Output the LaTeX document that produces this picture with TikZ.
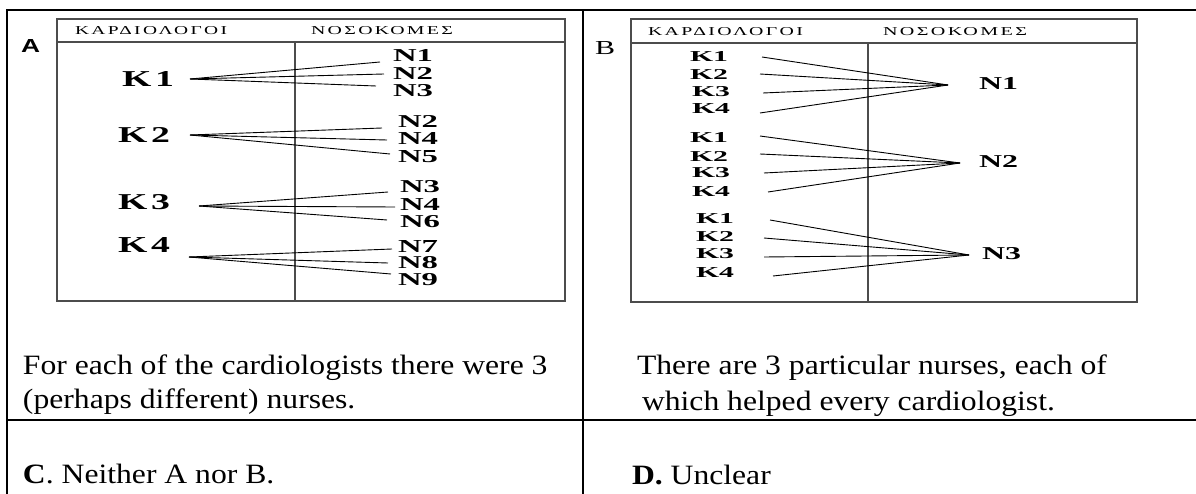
\documentclass[tikz,border=0pt]{standalone}
\usepackage{fontspec}
\usepackage{graphicx}
\setmainfont{Liberation Serif}
\newfontfamily\hdrfont[LetterSpace=12]{Liberation Serif}
\newfontfamily\sansfnt{Liberation Sans}
% body text is set slightly wide
\newcommand\wtext[1]{\scalebox{1.13}[1]{#1}}
% text fitted to a given width and cap height
\newcommand\fitbox[3]{\resizebox{#1pt}{#2pt}{#3}}
\newcommand\klabA[1]{\fitbox{52}{15}{\bfseries K\kern1pt#1}}
\newcommand\nlabA[1]{\fitbox{40}{12}{\bfseries N#1}}
\newcommand\klabB[1]{\fitbox{38}{10}{\bfseries K#1}}
\newcommand\nlabB[1]{\fitbox{39}{12}{\bfseries N#1}}

\begin{document}
\begin{tikzpicture}[x=1pt,y=-1pt,
  frame/.style={line width=2pt,black},
  inbox/.style={line width=1.8pt,draw=black!70},
  link/.style={line width=0.9pt,black},
  lab/.style={inner sep=0pt,outer sep=0pt,anchor=base west},
  body/.style={lab,font=\fontsize{28}{34}\selectfont}]
\useasboundingbox (0,0) rectangle (1196,494);
\fill[white] (0,0) rectangle (1196,494);

% table rules
\draw[frame] (7,494) -- (7,10) -- (1196,10);
\draw[frame] (583,10) -- (583,494);
\draw[frame] (7,420) -- (1196,420);

% ---------- panel A ----------
\draw[inbox] (57,19) rectangle (565,301);
\draw[inbox] (57,42) -- (565,42);
\draw[inbox] (295,42) -- (295,301);
\node[lab] (aHk) at (75,35) {\fitbox{152}{8}{\hdrfont ΚΑΡΔΙΟΛΟΓΟΙ}};
\node[lab] (aHn) at (311,35) {\fitbox{142}{8}{\hdrfont ΝΟΣΟΚΟΜΕΣ}};
\node[lab] (aTag) at (21,53) {\fitbox{19}{13}{\sansfnt\bfseries A}};

\node[lab] (aK1) at (122,87) {\klabA{1}};
\node[lab] (aK2) at (118,143) {\klabA{2}};
\node[lab] (aK3) at (118,210) {\klabA{3}};
\node[lab] (aK4) at (118,253) {\klabA{4}};

\node[lab] (aN11) at (393,62) {\nlabA{1}};
\node[lab] (aN12) at (393,80) {\nlabA{2}};
\node[lab] (aN13) at (393,97) {\nlabA{3}};
\node[lab] (aN21) at (398,128) {\nlabA{2}};
\node[lab] (aN22) at (398,145) {\nlabA{4}};
\node[lab] (aN23) at (398,163) {\nlabA{5}};
\node[lab] (aN31) at (400,193) {\nlabA{3}};
\node[lab] (aN32) at (400,211) {\nlabA{4}};
\node[lab] (aN33) at (400,228) {\nlabA{6}};
\node[lab] (aN41) at (398,252) {\nlabA{7}};
\node[lab] (aN42) at (398,269) {\nlabA{8}};
\node[lab] (aN43) at (398,286) {\nlabA{9}};

\coordinate (aS1) at (190,79);
\coordinate (aS2) at (190,135);
\coordinate (aS3) at (199,206);
\coordinate (aS4) at (189,257);
\coordinate (aE11) at (380,62);  \coordinate (aE12) at (384,74);  \coordinate (aE13) at (376,86);
\coordinate (aE21) at (382,128); \coordinate (aE22) at (387,140); \coordinate (aE23) at (390,154);
\coordinate (aE31) at (388,192); \coordinate (aE32) at (395,207); \coordinate (aE33) at (387,220);
\coordinate (aE41) at (392,249); \coordinate (aE42) at (388,263); \coordinate (aE43) at (391,274);
\foreach \g in {1,2,3,4}{
  \foreach \n in {1,2,3}{
    \draw[link] (aS\g) -- (aE\g\n);
  }
}

% ---------- panel B ----------
\draw[inbox] (631,19) rectangle (1137,302);
\draw[inbox] (631,43) -- (1137,43);
\draw[inbox] (868,43) -- (868,302);
\node[lab] (bHk) at (648,36) {\fitbox{155}{8}{\hdrfont ΚΑΡΔΙΟΛΟΓΟΙ}};
\node[lab] (bHn) at (883,36) {\fitbox{144}{8}{\hdrfont ΝΟΣΟΚΟΜΕΣ}};
\node[lab] (bTag) at (595,55) {\fitbox{20}{13}{B}};

\node[lab] (bK11) at (690,62) {\klabB{1}};
\node[lab] (bK12) at (690,80) {\klabB{2}};
\node[lab] (bK13) at (692,97) {\klabB{3}};
\node[lab] (bK14) at (692,114) {\klabB{4}};
\node[lab] (bK21) at (690,143) {\klabB{1}};
\node[lab] (bK22) at (690,162) {\klabB{2}};
\node[lab] (bK23) at (692,178) {\klabB{3}};
\node[lab] (bK24) at (692,197) {\klabB{4}};
\node[lab] (bK31) at (696,224) {\klabB{1}};
\node[lab] (bK32) at (696,242) {\klabB{2}};
\node[lab] (bK33) at (696,259) {\klabB{3}};
\node[lab] (bK34) at (696,277) {\klabB{4}};

\node[lab] (bN1) at (979,90) {\nlabB{1}};
\node[lab] (bN2) at (979,168) {\nlabB{2}};
\node[lab] (bN3) at (982,260) {\nlabB{3}};

\coordinate (bC1) at (948,85);
\coordinate (bC2) at (960,163);
\coordinate (bC3) at (969,255);
\coordinate (bS11) at (762,57);  \coordinate (bS12) at (760,74);
\coordinate (bS13) at (763,93);  \coordinate (bS14) at (760,113);
\coordinate (bS21) at (760,136); \coordinate (bS22) at (760,154);
\coordinate (bS23) at (764,173); \coordinate (bS24) at (768,192);
\coordinate (bS31) at (770,220); \coordinate (bS32) at (764,238);
\coordinate (bS33) at (764,257); \coordinate (bS34) at (773,276);
\foreach \g in {1,2,3}{
  \foreach \k in {1,2,3,4}{
    \draw[link] (bS\g\k) -- (bC\g);
  }
}

% ---------- captions ----------
\node[body] (tA1) at (23,374) {\wtext{For each of the cardiologists there were 3}};
\node[body] (tA2) at (23,408) {\wtext{(perhaps different) nurses.}};
\node[body] (tB1) at (637,374) {\wtext{There are 3 particular nurses, each of}};
\node[body] (tB2) at (642,410) {\wtext{which helped every cardiologist.}};
\node[body] (tC) at (23,483) {\wtext{\textbf{C}. Neither A nor B.}};
\node[body] (tD) at (632,484) {\wtext{\textbf{D.} Unclear}};
\end{tikzpicture}
\end{document}
